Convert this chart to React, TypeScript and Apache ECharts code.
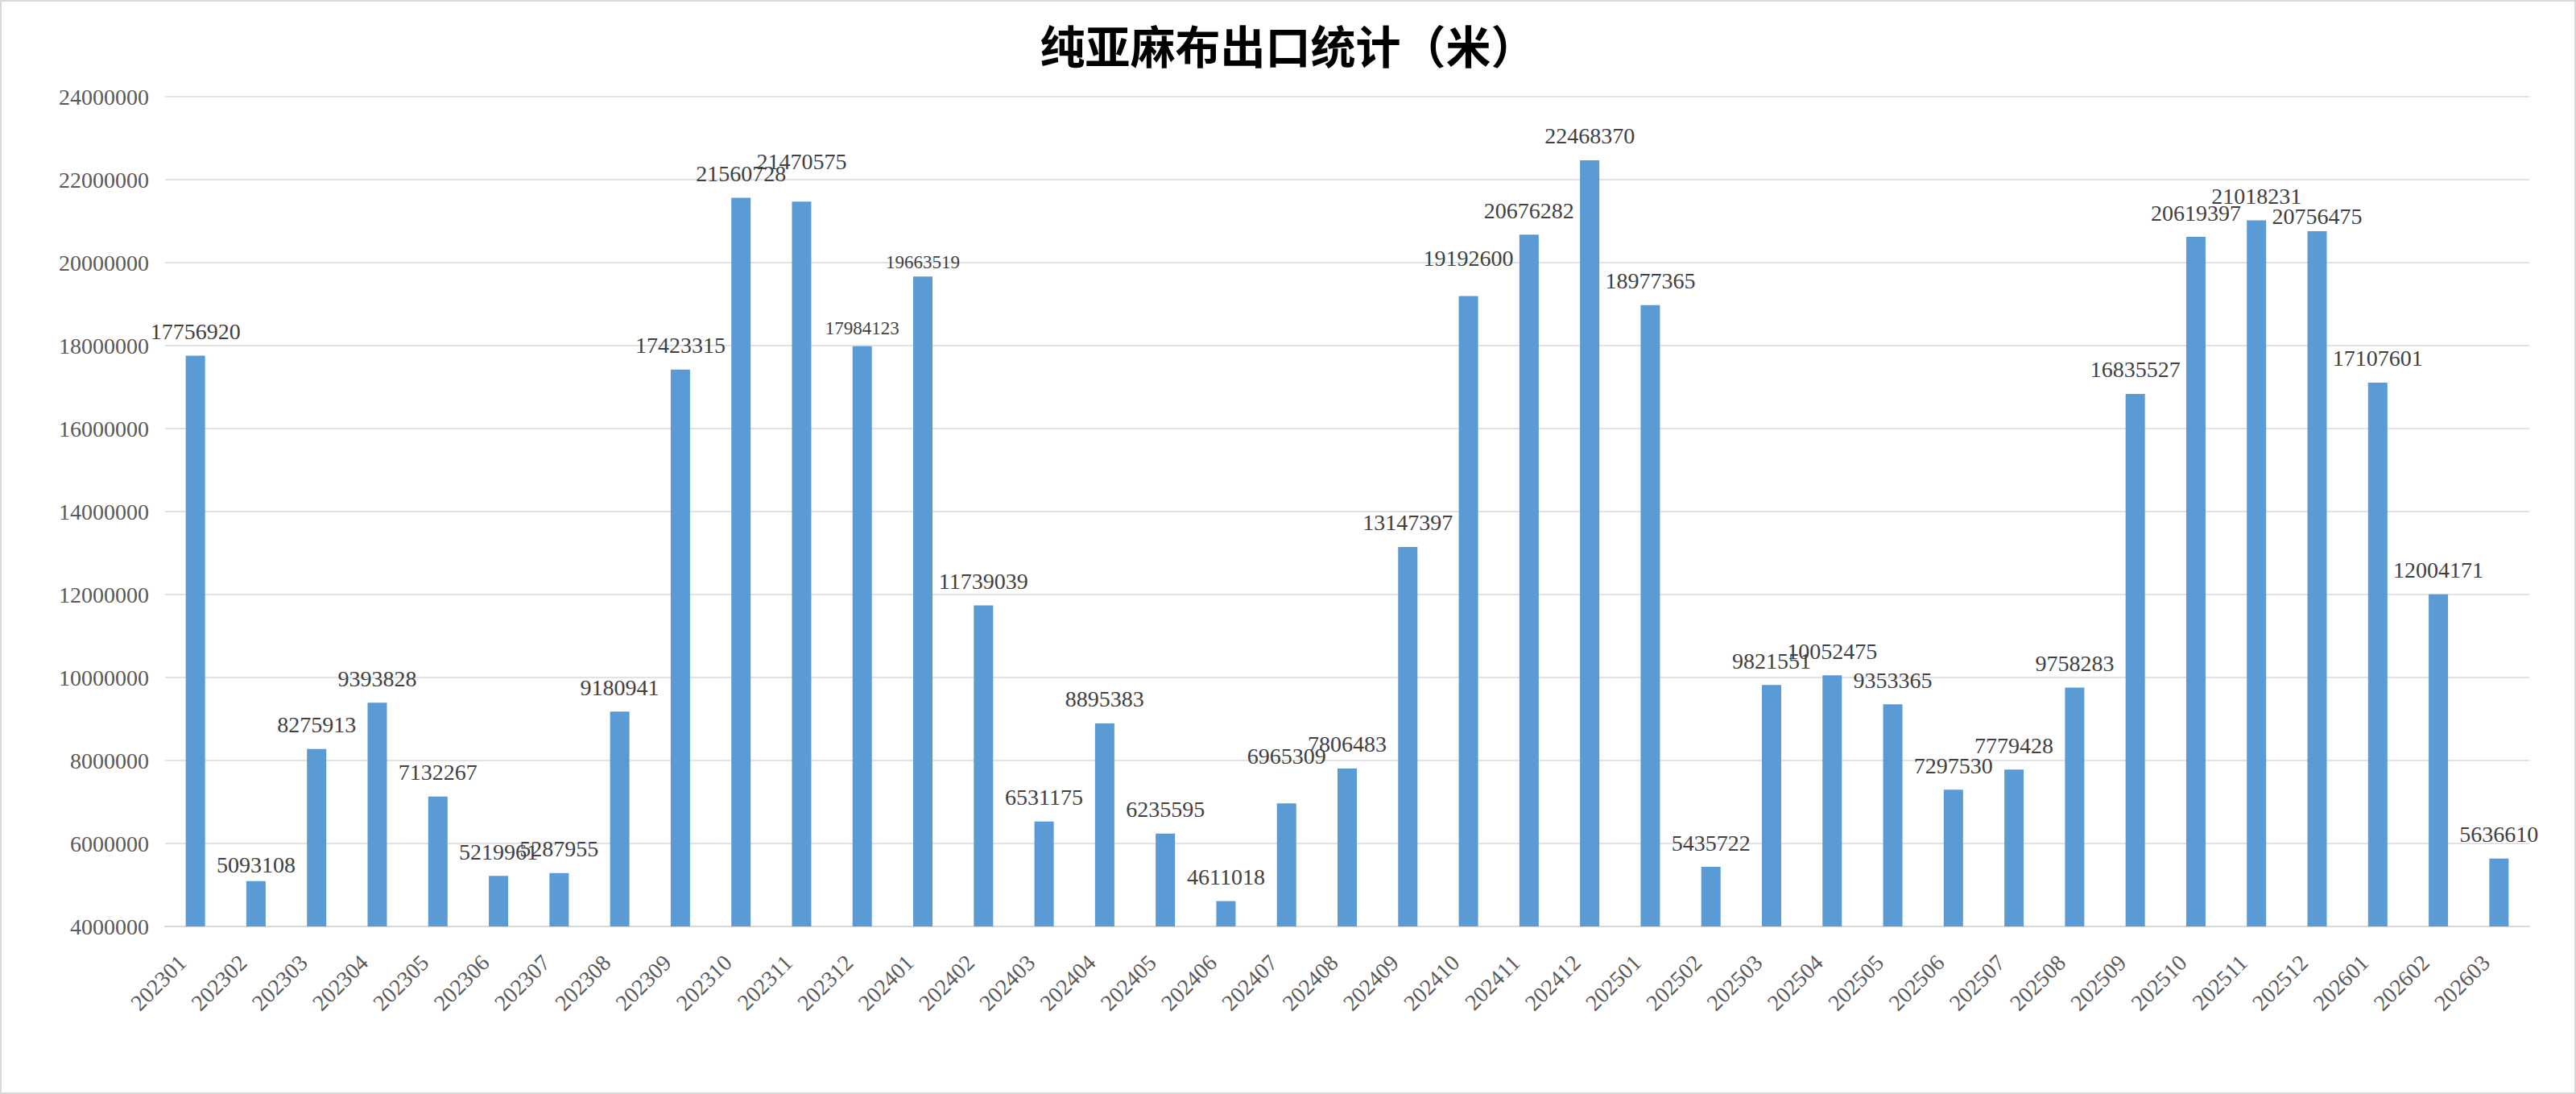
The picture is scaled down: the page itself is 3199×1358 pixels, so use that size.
import React, { useEffect, useRef } from "react";
import * as echarts from "echarts";

const chartTitle = "纯亚麻布出口统计（米）";

const categories = [
  "202301", "202302", "202303", "202304", "202305", "202306", "202307", "202308", "202309", "202310", "202311", "202312",
  "202401", "202402", "202403", "202404", "202405", "202406", "202407", "202408", "202409", "202410", "202411", "202412",
  "202501", "202502", "202503", "202504", "202505", "202506", "202507", "202508", "202509", "202510", "202511", "202512",
  "202601", "202602", "202603",
];

const exportMeters = [
  17756920, 5093108, 8275913, 9393828, 7132267, 5219961, 5287955, 9180941, 17423315, 21560728, 21470575, 17984123,
  19663519, 11739039, 6531175, 8895383, 6235595, 4611018, 6965309, 7806483, 13147397, 19192600, 20676282, 22468370,
  18977365, 5435722, 9821551, 10052475, 9353365, 7297530, 7779428, 9758283, 16835527, 20619397, 21018231, 20756475,
  17107601, 12004171, 5636610,
];

const yMin = 4000000;
const yMax = 24000000;
const yStep = 2000000;

// label nudges (style only) keyed by category
const labelNudges: Record<string, { dy?: number; fontSize?: number }> = {
  "202302": { dy: 10 },
  "202311": { dy: -20 },
  "202312": { dy: 5, fontSize: 23 },
  "202401": { dy: 10, fontSize: 23 },
  "202407": { dy: -29 },
  "202410": { dy: -17 },
  "202512": { dy: 11 },
};

const SERIF = "'Liberation Serif', 'Times New Roman', serif";

export default function App() {
  const ref = useRef<HTMLDivElement>(null);

  useEffect(() => {
    if (!ref.current) return;
    document.body.style.margin = "0";
    const chart = echarts.init(ref.current, undefined, { renderer: "svg" });

    const data = exportMeters.map((v, i) => {
      const n = labelNudges[categories[i]];
      if (!n) return v;
      return {
        value: v,
        label: { offset: [0, n.dy ?? 0], fontSize: n.fontSize ?? 28 },
      };
    });

    chart.setOption({
      animation: false,
      backgroundColor: "#ffffff",
      textStyle: { fontFamily: SERIF },
      title: {
        text: chartTitle,
        left: "center",
        top: 26,
        padding: 0,
        textStyle: {
          fontSize: 56,
          fontWeight: "bold",
          color: "#000000",
          fontFamily: "'Noto Sans CJK SC', sans-serif",
        },
      },
      graphic: [
        {
          type: "rect",
          shape: { x: 1, y: 1, width: 3197, height: 1356 },
          style: { fill: "none", stroke: "#d9d9d9", lineWidth: 2 },
          silent: true,
          z: 100,
        },
      ],
      grid: { left: 205, right: 58, top: 120, bottom: 208 },
      xAxis: {
        type: "category",
        data: categories,
        axisLine: { show: true, lineStyle: { color: "#d9d9d9", width: 2 } },
        axisTick: { show: false },
        axisLabel: {
          interval: 0,
          rotate: 45,
          margin: 24,
          padding: [0, 23, 0, 0],
          fontSize: 28,
          color: "#595959",
          fontFamily: SERIF,
        },
      },
      yAxis: {
        type: "value",
        min: yMin,
        max: yMax,
        interval: yStep,
        axisLine: { show: false },
        axisTick: { show: false },
        splitLine: { show: true, lineStyle: { color: "#d9d9d9", width: 1.5 } },
        axisLabel: {
          margin: 20,
          fontSize: 28,
          color: "#595959",
          fontFamily: SERIF,
          formatter: (v: number) => String(v),
        },
      },
      series: [
        {
          type: "bar",
          data,
          barWidth: 24,
          itemStyle: { color: "#5b9bd5" },
          label: {
            show: true,
            position: "top",
            distance: 16,
            fontSize: 28,
            color: "#404040",
            fontFamily: SERIF,
          },
        },
      ],
    });

    return () => chart.dispose();
  }, []);

  return (
    <div
      ref={ref}
      style={{ position: "fixed", left: 0, top: 0, width: 3199, height: 1358 }}
    />
  );
}
